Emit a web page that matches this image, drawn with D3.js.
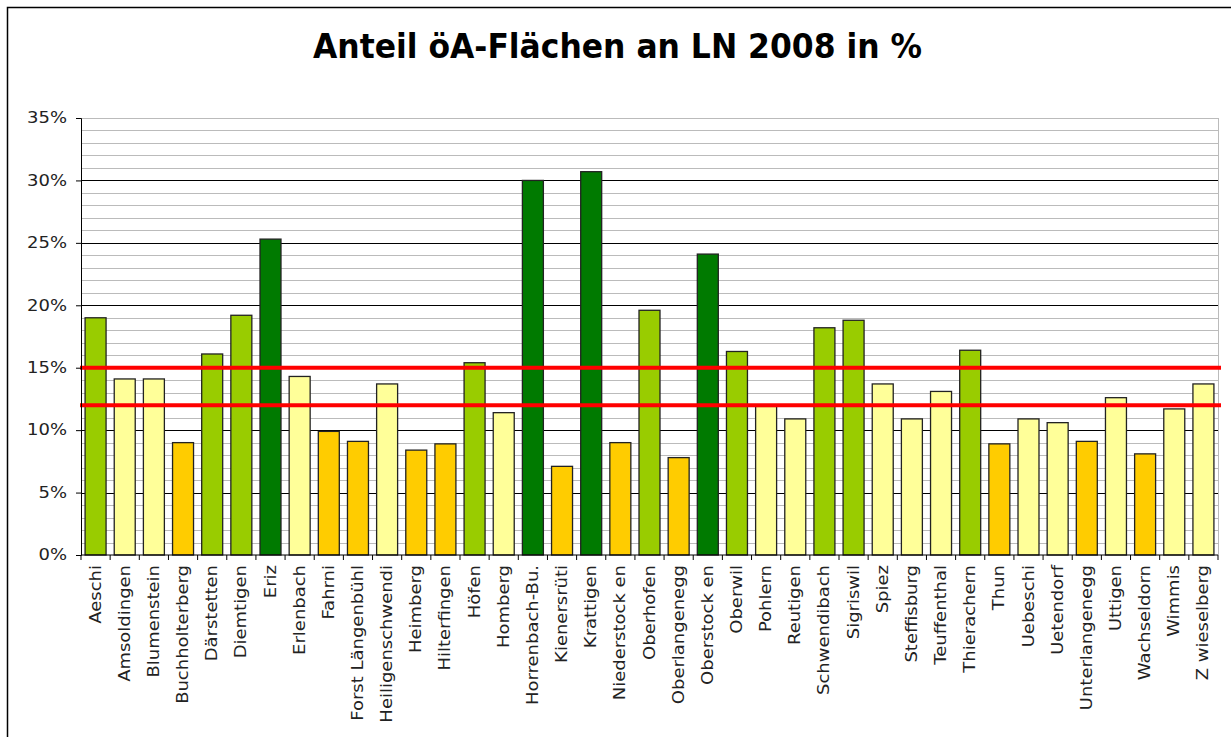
<!DOCTYPE html>
<html>
<head>
<meta charset="utf-8">
<script src="https://cdn.jsdelivr.net/npm/d3@7"></script>
<style>
  body{margin:0;background:#fff;}
  svg{display:block;}
  text{font-family:"DejaVu Sans",Verdana,sans-serif;}
</style>
</head>
<body>
<div class="chart"></div>
<script>
const gemeinden = ["Aeschi","Amsoldingen","Blumenstein","Buchholterberg","Därstetten","Diemtigen","Eriz","Erlenbach","Fahrni","Forst Längenbühl","Heiligenschwendi","Heimberg","Hilterfingen","Höfen","Homberg","Horrenbach-Bu.","Kienersrüti","Krattigen","Niederstock en","Oberhofen","Oberlangenegg","Oberstock en","Oberwil","Pohlern","Reutigen","Schwendibach","Sigriswil","Spiez","Steffisburg","Teuffenthal","Thierachern","Thun","Uebeschi","Uetendorf","Unterlangenegg","Uttigen","Wachseldorn","Wimmis","Z wieselberg"]
const anteil = [19.0,14.1,14.1,9.0,16.1,19.2,25.3,14.3,9.9,9.1,13.7,8.4,8.9,15.4,11.4,30.0,7.1,30.7,9.0,19.6,7.8,24.1,16.3,11.9,10.9,18.2,18.8,13.7,10.9,13.1,16.4,8.9,10.9,10.6,9.1,12.6,8.1,11.7,13.7]
const yTicks = [0,5,10,15,20,25,30,35]
const grenzen = [12,15]
const klassen = [10,15,20]
const klassenFarben = ["#ffcc00","#ffff99","#99cc00","#007a00"]

const W = 1231, H = 737
const m = {left:81, right:13, top:118, bottom:182}

const svg = d3.select(".chart").append("svg").attr("width",W).attr("height",H)

// outer frame
svg.append("rect").attr("x",7.5).attr("y",7.5).attr("width",W+20).attr("height",H+20)
  .attr("fill","#fff").attr("stroke","#000").attr("stroke-width",1.5)

svg.append("text").attr("x",313).attr("y",58)
  .attr("textLength",609).attr("lengthAdjust","spacingAndGlyphs")
  .style("font-size","33px").style("font-weight","bold").text("Anteil öA-Flächen an LN 2008 in %")

const x = d3.scaleBand().domain(gemeinden).range([m.left,W-m.right]).paddingInner(0.28).paddingOuter(0.14)
const y = d3.scaleLinear().domain([0,35]).range([H-m.bottom,m.top])
const farbe = d3.scaleThreshold().domain(klassen).range(klassenFarben)

// grid: 1% minor grey, 5% major black
svg.append("g").selectAll("line").data(d3.range(1,36)).enter().append("line")
  .attr("x1",m.left).attr("x2",W-m.right)
  .attr("y1",d=>Math.round(y(d))+0.5).attr("y2",d=>Math.round(y(d))+0.5)
  .attr("stroke",d=>(d%5===0 && d<35)?"#000":"#bbb").attr("stroke-width",1.2)

svg.append("line").attr("x1",W-m.right+0.5).attr("x2",W-m.right+0.5).attr("y1",m.top).attr("y2",y(0))
  .attr("stroke","#bbb")

svg.append("g").selectAll("rect").data(anteil).enter().append("rect")
  .attr("x",(d,i)=>x(gemeinden[i]))
  .attr("width",x.bandwidth())
  .attr("y",d=>y(d))
  .attr("height",d=>y(0)-y(d))
  .attr("fill",d=>farbe(d))
  .attr("stroke","#222").attr("stroke-width",1.3)

svg.append("g").selectAll("line").data(grenzen).enter().append("line")
  .attr("x1",m.left-1).attr("x2",W-10)
  .attr("y1",d=>y(d)).attr("y2",d=>y(d))
  .attr("stroke","#ff0000").attr("stroke-width",4)

const yAxis = d3.axisLeft(y).tickValues(yTicks).tickFormat(d=>d+"%").tickSize(5).tickPadding(0)
const ga = svg.append("g").attr("transform",`translate(${m.left},0)`).call(yAxis)
ga.selectAll("text").style("font-size","15px").attr("fill","#222")
  .attr("x",null).attr("transform","translate(-14,0) scale(1.2,1)")
ga.selectAll("line,path").attr("stroke","#000")

// x axis, ticks between categories
const n = gemeinden.length
const gx = svg.append("g").attr("transform",`translate(0,${y(0)})`)
gx.append("line").attr("x1",m.left).attr("x2",W-m.right).attr("stroke","#000")
gx.selectAll("line.t").data(d3.range(n+1)).enter().append("line").attr("class","t")
  .attr("x1",i=>m.left+i*(W-m.left-m.right)/n).attr("x2",i=>m.left+i*(W-m.left-m.right)/n)
  .attr("y1",0).attr("y2",5).attr("stroke","#000")
gx.selectAll("text").data(gemeinden).enter().append("text")
  .attr("transform",d=>`translate(${x(d)+x.bandwidth()/2+5},10) rotate(-90) scale(1.2,1)`)
  .attr("text-anchor","end").style("font-size","15px").attr("fill","#222").text(d=>d)
</script>
</body>
</html>
